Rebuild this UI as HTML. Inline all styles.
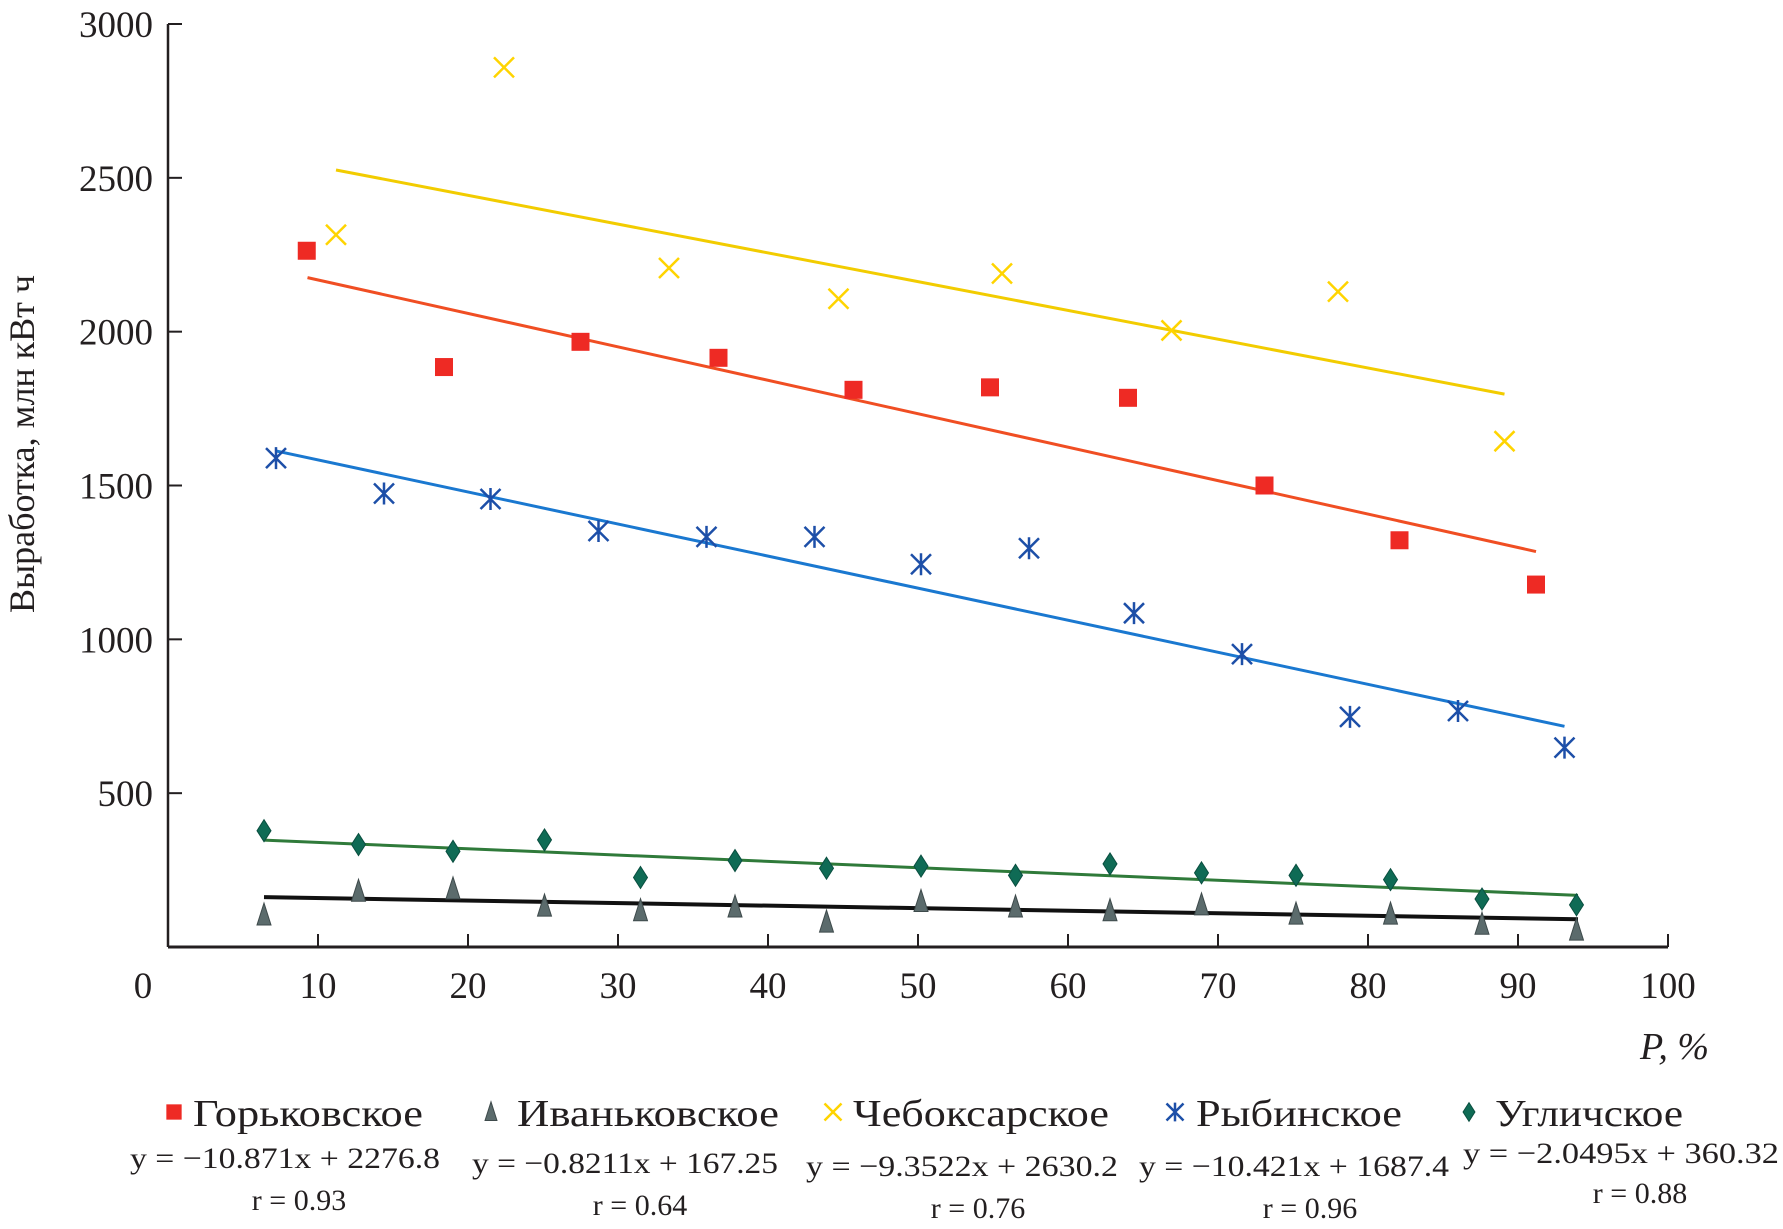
<!DOCTYPE html>
<html><head><meta charset="utf-8"><style>
html,body{margin:0;padding:0;background:#fff;}
svg{display:block;font-family:"Liberation Serif","DejaVu Serif",serif;}
</style></head><body>
<svg id="chart" width="1783" height="1229" viewBox="0 0 1783 1229" xmlns="http://www.w3.org/2000/svg">
<g id="axes"></g>
<g id="lines"></g>
<g id="marks"></g>
<text transform="translate(34,444) rotate(-90)" text-anchor="middle" font-size="36" fill="#231f20">Выработка, млн кВт ч</text>
<text x="1709" y="1059" text-anchor="end" font-size="38" font-style="italic" fill="#231f20">P, %</text>
<g id="legend"></g>
</svg>
<script>
const xTicks=[0,10,20,30,40,50,60,70,80,90,100];
const yTicks=[500,1000,1500,2000,2500,3000];
const names=["Горьковское","Иваньковское","Чебоксарское","Рыбинское","Угличское"];
const equations=["y = −10.871x + 2276.8","y = −0.8211x + 167.25","y = −9.3522x + 2630.2","y = −10.421x + 1687.4","y = −2.0495x + 360.32"];
const rValues=["r = 0.93","r = 0.64","r = 0.76","r = 0.96","r = 0.88"];
const slopes=[-10.871,-0.8211,-9.3522,-10.421,-2.0495];
const intercepts=[2276.8,167.25,2630.2,1687.4,360.32];
const lineFrom=[9.3,6.4,11.2,7.2,6.4];
const lineTo=[91.2,94,89.1,93.1,94];
const gorkX=[9.25,18.4,27.5,36.7,45.7,54.8,64,73.1,82.1,91.2];
const gorkY=[2263,1885,1967,1915,1811,1819,1785,1500,1322,1178];
const ivanX=[6.4,12.7,19,25.1,31.5,37.8,43.9,50.2,56.5,62.8,68.9,75.2,81.5,87.6,93.9];
const ivanY=[104,181,189,133,118,130,81,148,130,118,137,107,107,74,55];
const chebX=[11.2,22.4,33.4,44.7,55.6,66.9,78,89.1];
const chebY=[2315,2859,2207,2107,2189,2004,2130,1644];
const rybX=[7.2,14.4,21.5,28.7,35.9,43.1,50.2,57.4,64.4,71.6,78.8,86,93.1];
const rybY=[1589,1474,1456,1352,1333,1333,1244,1296,1085,952,748,767,648];
const uglX=[6.4,12.7,19,25.1,31.5,37.8,43.9,50.2,56.5,62.8,68.9,75.2,81.5,87.6,93.9];
const uglY=[378,333,311,348,226,281,256,263,233,270,241,233,219,156,137];

const NS="http://www.w3.org/2000/svg";
const X0=168,X1=1668,Y0=947,Y3000=24;
const sx=v=>X0+(X1-X0)*v/100;
const sy=v=>Y0-(Y0-Y3000)*v/3000;
function mk(tag,attrs,parent){const e=document.createElementNS(NS,tag);for(const k in attrs)e.setAttribute(k,attrs[k]);parent.appendChild(e);return e;}
const axes=document.getElementById('axes');
let e=mk('line',{x1:X0,y1:Y0,x2:X1,y2:Y0,stroke:'#231f20','stroke-width':3},axes);


e=mk('line',{x1:X0,y1:Y0,x2:X0,y2:Y3000,stroke:'#231f20','stroke-width':2.5},axes);


xTicks.forEach(t=>{
  if(t>0){const l=mk('line',{x1:sx(t),y1:Y0,x2:sx(t),y2:Y0-13,stroke:'#231f20','stroke-width':2},axes);
  
  }
  const tx=mk('text',{x:sx(t)-(t===0?25:0),y:998,'text-anchor':'middle','font-size':37,fill:'#231f20'},axes);
  tx.textContent=t;
  
  
});
yTicks.forEach(t=>{
  const l=mk('line',{x1:X0,y1:sy(t),x2:X0+14,y2:sy(t),stroke:'#231f20','stroke-width':2},axes);
  
  
  const tx=mk('text',{x:153,y:sy(t)+13,'text-anchor':'end','font-size':37,fill:'#231f20'},axes);
  tx.textContent=t;
  
  
});
const lineColors=['#f04e23','#111111','#f2cc00','#1a78d0','#2f7a3a'];
const lines=document.getElementById('lines');
for(let i=0;i<5;i++){
  const a=lineFrom[i],b=lineTo[i];
  const l=mk('line',{x1:sx(a),y1:sy(slopes[i]*a+intercepts[i]),x2:sx(b),y2:sy(slopes[i]*b+intercepts[i]),stroke:lineColors[i],'stroke-width':i===1?4:3},lines);
  
  
}
function marker(type,cx,cy,parent,s){
  s=s||1;let g;
  if(type===0){g=mk('rect',{x:cx-9*s,y:cy-9*s,width:18*s,height:18*s,fill:'#ee2a24'},parent);}
  else if(type===1){g=mk('path',{d:`M${cx},${cy-12*s} L${cx+7*s},${cy+10*s} L${cx-7*s},${cy+10*s}Z`,fill:'#5b6b6c',stroke:'#3e4a4b','stroke-width':1},parent);}
  else if(type===2){g=mk('path',{d:`M${cx-10*s},${cy-10*s}L${cx+10*s},${cy+10*s}M${cx+10*s},${cy-10*s}L${cx-10*s},${cy+10*s}`,stroke:'#ffd400','stroke-width':2.5,fill:'none'},parent);}
  else if(type===3){g=mk('path',{d:`M${cx},${cy-11*s}L${cx},${cy+11*s}M${cx-10*s},${cy-10*s}L${cx+10*s},${cy+10*s}M${cx+10*s},${cy-10*s}L${cx-10*s},${cy+10*s}`,stroke:'#1d4fa8','stroke-width':2.5,fill:'none'},parent);}
  else {g=mk('path',{d:`M${cx},${cy-11*s}L${cx+7*s},${cy}L${cx},${cy+11*s}L${cx-7*s},${cy}Z`,fill:'#0f6b55',stroke:'#0a4f40','stroke-width':1},parent);}
  return g;
}
const marks=document.getElementById('marks');
const series=[[gorkX,gorkY],[ivanX,ivanY],[chebX,chebY],[rybX,rybY],[uglX,uglY]];
const order=[1,4,3,0,2];
order.forEach(i=>{
  const [xs,ys]=series[i];
  xs.forEach((x,j)=>{
    const m=marker(i,sx(x),sy(ys[j]),marks);
    
    
  });
});
const legend=document.getElementById('legend');
const legMarkX=[174,491,833,1175,1469];
const legTextX=[193,517,853,1196,1495];
const legTextW=[230,262,256,206,188];
const eqCX=[285,625,962,1294,1621];
const rCX=[299,640,978,1310,1640];
const eqY=[1168,1173,1176,1176,1163];
const rY=[1210,1215,1218,1218,1203];
const eqW=[310,306,312,310,316];
for(let i=0;i<5;i++){
  const m=marker(i,legMarkX[i],1112,legend,0.85);
  
  
  let t=mk('text',{x:legTextX[i],y:1126,'font-size':38,fill:'#231f20',textLength:legTextW[i],lengthAdjust:'spacingAndGlyphs'},legend);
  t.textContent=names[i];
  
  
  t=mk('text',{x:eqCX[i],y:eqY[i],'text-anchor':'middle','font-size':30,fill:'#231f20',textLength:eqW[i],lengthAdjust:'spacingAndGlyphs'},legend);
  t.textContent=equations[i];
  
  
  t=mk('text',{x:rCX[i],y:rY[i],'text-anchor':'middle','font-size':30,fill:'#231f20'},legend);
  t.textContent=rValues[i];
  
  
}
</script>
</body></html>
